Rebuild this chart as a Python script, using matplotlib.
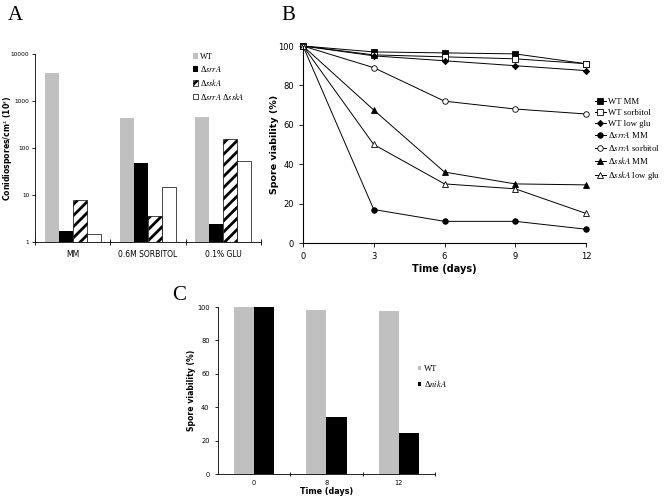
import matplotlib
matplotlib.use("Agg")
import matplotlib.pyplot as plt
import numpy as np

plt.rcParams['mathtext.fontset'] = 'stix'
plt.rcParams['hatch.linewidth'] = 2.0

# panel A data (log scale)
conditions = ["MM", "0.6M SORBITOL", "0.1% GLU"]
strains_a = ["WT", r"Δ$\mathit{srrA}$", r"Δ$\mathit{sskA}$", r"Δ$\mathit{srrA}$ Δ$\mathit{sskA}$"]
wt_a = [4000, 430, 450]
srra_a = [1.75, 48, 2.4]
sska_a = [8, 3.5, 155]
double_a = [1.45, 15, 53]

# panel B data
days_b = [0, 3, 6, 9, 12]
wt_mm = [100, 97, 96.5, 96, 91]
wt_sorb = [100, 95.5, 94.5, 93.5, 91]
wt_glu = [100, 95, 92.5, 90, 87.5]
srra_mm = [100, 17, 11, 11, 7]
srra_sorb = [100, 89, 72, 68, 65.5]
sska_mm = [100, 67.5, 36, 30, 29.5]
sska_glu = [100, 50, 30, 27.5, 15]

# panel C data
days_c = ["0", "8", "12"]
wt_c = [100, 98.5, 97.5]
nika_c = [100, 34, 24.5]

fig = plt.figure(figsize=(6.64, 4.98), dpi=100)
W, H = 664, 498

def box(x0, y0, x1, y1):
    return [x0 / W, 1 - y1 / H, (x1 - x0) / W, (y1 - y0) / H]

serif = "Liberation Serif"

# ---- panel A
ax = fig.add_axes(box(35, 54, 261, 242))
x = np.arange(len(conditions))
bw = 0.185
ax.bar(x - 1.5 * bw, wt_a, bw, color="#c0c0c0", label=strains_a[0])
ax.bar(x - 0.5 * bw, srra_a, bw, color="black", label=strains_a[1])
ax.bar(x + 0.5 * bw, sska_a, bw, color="white", edgecolor="black", hatch="///", lw=0.5, label=strains_a[2])
ax.bar(x + 1.5 * bw, double_a, bw, color="white", edgecolor="black", lw=0.5, label=strains_a[3])
ax.set_yscale("log")
ax.set_ylim(1, 10000)
ax.set_xlim(-0.5, 2.5)
ax.set_yticks([1, 10, 100, 1000, 10000])
ax.set_yticklabels(["1", "10", "100", "1000", "10000"])
ax.minorticks_off()
ax.set_xticks(x)
ax.set_xticklabels(conditions)
ax.set_xticks([-0.5, 0.5, 1.5, 2.5], minor=True)
ax.tick_params(axis="x", which="major", length=0, labelsize=5.5, pad=6)
ax.tick_params(axis="x", which="minor", length=4, direction="inout", width=0.6)
ax.tick_params(axis="y", labelsize=4.2, length=2.5, width=0.6, pad=1.5)
ax.set_ylabel(r"Conidiospores/cm$^\mathbf{2}$ (10$^\mathbf{5}$)", fontsize=5.6, fontweight="bold")
ax.yaxis.set_label_coords(-0.09, 0.5)
for s in ["top", "right"]:
    ax.spines[s].set_visible(False)
for s in ["left", "bottom"]:
    ax.spines[s].set_linewidth(0.6)
ax.legend(loc="upper left", bbox_to_anchor=(193 / W, 1 - 53 / H), bbox_transform=fig.transFigure,
          frameon=False, prop={"family": serif, "size": 6}, handlelength=0.6, handleheight=0.6,
          handletextpad=0.2, labelspacing=0.35, borderpad=0, borderaxespad=0)

# ---- panel B
bx = fig.add_axes(box(303, 46, 586, 243))
series = [
    (wt_mm, "s", "black", "WT MM"),
    (wt_sorb, "s", "white", "WT sorbitol"),
    (wt_glu, "D", "black", "WT low glu"),
    (srra_mm, "o", "black", r"Δ$\mathit{srrA}$ MM"),
    (srra_sorb, "o", "white", r"Δ$\mathit{srrA}$ sorbitol"),
    (sska_mm, "^", "black", r"Δ$\mathit{sskA}$ MM"),
    (sska_glu, "^", "white", r"Δ$\mathit{sskA}$ low glu"),
]
for vals, m, fc, lab in series:
    ms = 3.2 if m == "D" else 4
    bx.plot(days_b, vals, color="black", lw=0.7, marker=m, markersize=ms,
            markerfacecolor=fc, markeredgecolor="black", markeredgewidth=0.6,
            label=lab, clip_on=False)
bx.set_xlim(0, 12)
bx.set_ylim(0, 100)
bx.set_xticks(days_b)
bx.set_yticks([0, 20, 40, 60, 80, 100])
bx.tick_params(labelsize=6, length=3, width=0.6)
bx.set_xlabel("Time (days)", fontsize=7, fontweight="bold", labelpad=2)
bx.set_ylabel("Spore viability (%)", fontsize=6.8, fontweight="bold")
bx.yaxis.set_label_coords(-0.085, 0.5)
for s in ["top", "right"]:
    bx.spines[s].set_visible(False)
for s in ["left", "bottom"]:
    bx.spines[s].set_linewidth(0.8)
bx.legend(loc="upper left", bbox_to_anchor=(595 / W, 1 - 98 / H), bbox_transform=fig.transFigure,
          frameon=False, prop={"family": serif, "size": 6.3}, handlelength=1.2,
          handletextpad=0.3, labelspacing=0.3, borderpad=0, borderaxespad=0)

# ---- panel C
cx = fig.add_axes(box(218, 307, 435, 474))
xc = np.arange(len(days_c))
cw = 0.28
cx.bar(xc - cw / 2, wt_c, cw, color="#c0c0c0", label="WT")
cx.bar(xc + cw / 2, nika_c, cw, color="black", label=r"Δ$\mathit{nikA}$")
cx.set_xlim(-0.5, 2.5)
cx.set_ylim(0, 100)
cx.set_yticks([0, 20, 40, 60, 80, 100])
cx.set_xticks(xc)
cx.set_xticklabels(days_c)
cx.set_xticks([0.5, 1.5, 2.5], minor=True)
cx.tick_params(axis="x", which="major", length=0, labelsize=4.8, pad=4)
cx.tick_params(axis="x", which="minor", length=3, direction="inout", width=0.6)
cx.tick_params(axis="y", labelsize=4.8, length=2.5, width=0.6)
cx.set_xlabel("Time (days)", fontsize=5.8, fontweight="bold", labelpad=1)
cx.set_ylabel("Spore viability (%)", fontsize=5.6, fontweight="bold")
cx.yaxis.set_label_coords(-0.1, 0.5)
for s in ["top", "right"]:
    cx.spines[s].set_visible(False)
for s in ["left", "bottom"]:
    cx.spines[s].set_linewidth(0.6)
cx.legend(loc="upper left", bbox_to_anchor=(418 / W, 1 - 365 / H), bbox_transform=fig.transFigure,
          frameon=False, prop={"family": serif, "size": 6.2}, handlelength=0.4, handleheight=0.4,
          handletextpad=0.3, labelspacing=0.6, borderpad=0, borderaxespad=0)

# panel letters
fig.text(8 / W, 1 - 6 / H, "A", family=serif, fontsize=15, va="top")
fig.text(281 / W, 1 - 6 / H, "B", family=serif, fontsize=15, va="top")
fig.text(172 / W, 1 - 286 / H, "C", family=serif, fontsize=15, va="top")

fig.savefig("out.png", dpi=100)
